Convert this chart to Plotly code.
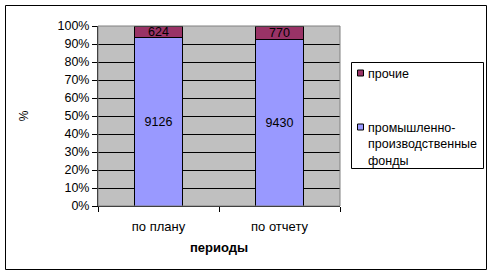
import plotly.graph_objects as go

categories = ["по плану", "по отчету"]
industrial = [9126, 9430]
other = [624, 770]
series_names = ["промышленно-<br>производственные<br>фонды", "прочие"]
series_colors = ["#9999FF", "#993366"]
y_ticks = [0, 10, 20, 30, 40, 50, 60, 70, 80, 90, 100]
y_ticklabels = [f"{v}%" for v in y_ticks]

FONT = "Liberation Sans, Arial, sans-serif"

fig = go.Figure()
for vals, name, col in [(industrial, series_names[0], series_colors[0]),
                        (other, series_names[1], series_colors[1])]:
    fig.add_trace(go.Bar(
        x=categories, y=vals, name=name,
        marker=dict(color=col, line=dict(color="black", width=1)),
        text=[str(v) for v in vals], textposition="inside",
        insidetextanchor="middle", textfont=dict(color="black", size=12.5, family=FONT),
        showlegend=False,
    ))

L, R, T, B = 98, 153, 26, 70
W, H = 493, 276
pw, ph = W - L - R, H - T - B

def px_x(p):
    return (p - L) / pw

def px_y(p):
    return (H - B - p) / ph

shapes = [
    dict(type="rect", xref="paper", yref="paper",
         x0=px_x(5.5), x1=px_x(486.5), y0=px_y(269.5), y1=px_y(5.5),
         line=dict(color="black", width=1), fillcolor="rgba(0,0,0,0)", layer="below"),
    dict(type="rect", xref="paper", yref="paper",
         x0=0, x1=1, y0=0, y1=1,
         line=dict(color="#808080", width=1), fillcolor="rgba(0,0,0,0)"),
    # legend box
    dict(type="rect", xref="paper", yref="paper",
         x0=px_x(351.5), x1=px_x(483.5), y0=px_y(168.5), y1=px_y(62.5),
         line=dict(color="black", width=1), fillcolor="white"),
]
annotations = []
# legend entries: прочие on top, then промышленно-производственные фонды
legend_rows = [(series_names[1], series_colors[1], 73), (series_names[0], series_colors[0], 127)]
for name, col, cy in legend_rows:
    shapes.append(dict(type="rect", xref="paper", yref="paper",
                       x0=px_x(357.5), x1=px_x(363.5), y0=px_y(cy + 3), y1=px_y(cy - 3),
                       line=dict(color="black", width=1), fillcolor=col))
    annotations.append(dict(xref="paper", yref="paper", x=px_x(366), y=px_y(cy - 8.5),
                            xanchor="left", yanchor="top", align="left",
                            text=name, showarrow=False,
                            font=dict(size=12.5, family=FONT, color="black")))

fig.update_layout(
    width=W, height=H,
    margin=dict(l=L, r=R, t=T, b=B, autoexpand=False),
    paper_bgcolor="white", plot_bgcolor="#C0C0C0",
    barmode="stack", barnorm="percent", bargap=0.61,
    font=dict(family=FONT, size=12, color="black"),
    uniformtext=dict(mode="show", minsize=12),
    showlegend=False,
    xaxis=dict(
        showline=True, linecolor="black", linewidth=1,
        ticks="outside", ticklen=5, tickcolor="black", tickson="boundaries",
        ticklabelstandoff=8,
        title=dict(text="<b>периоды</b>", font=dict(size=13), standoff=10),
        tickfont=dict(size=13),
    ),
    yaxis=dict(
        range=[0, 100], tickvals=y_ticks, ticktext=y_ticklabels,
        showgrid=True, gridcolor="black", gridwidth=1,
        showline=True, linecolor="black", linewidth=1,
        ticks="outside", ticklen=5, tickcolor="black",
        tickfont=dict(size=12.5),
        title=dict(text="%", font=dict(size=12), standoff=26),
        zeroline=False,
    ),
    shapes=shapes,
    annotations=annotations,
)

fig.write_html("out.html")
